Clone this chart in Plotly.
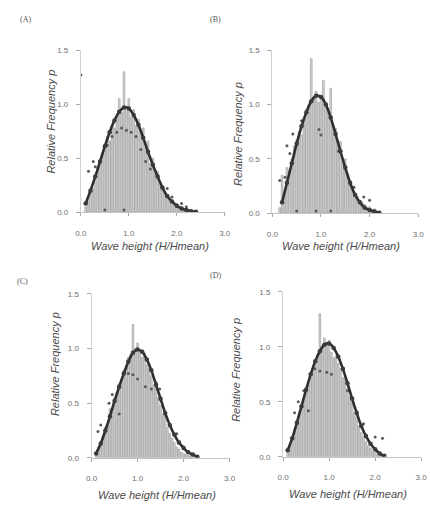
import numpy as np
import plotly.graph_objects as go

# ---------------- data ----------------
# Histogram bin centres (bin width 0.05) and relative frequencies per panel
A_hist_x = np.round(np.arange(0.10, 2.351, 0.05), 2)
A_hist_y = [0.05, 0.12, 0.18, 0.22, 0.30, 0.42, 0.45, 0.55, 0.58, 0.70,
            0.66, 0.80, 0.78, 0.88, 1.05, 0.92, 1.30, 0.98, 1.05, 0.88,
            0.95, 0.80, 0.86, 0.72, 0.78, 0.60, 0.66, 0.45, 0.50, 0.36,
            0.38, 0.26, 0.24, 0.18, 0.16, 0.12, 0.10, 0.07, 0.08, 0.04,
            0.05, 0.03, 0.02, 0.02, 0.01, 0.01]

B_hist_x = np.round(np.arange(0.15, 2.201, 0.05), 2)
B_hist_y = [0.05, 0.35, 0.20, 0.42, 0.40, 0.50, 0.62, 0.68, 0.75, 0.72,
            0.88, 0.95, 1.00, 1.42, 1.05, 1.12, 1.02, 1.08, 1.22, 1.00,
            0.95, 1.15, 0.82, 0.78, 0.62, 0.66, 0.48, 0.50, 0.36, 0.30,
            0.24, 0.18, 0.16, 0.12, 0.10, 0.08, 0.05, 0.06, 0.03, 0.04,
            0.02, 0.01]

C_hist_x = np.round(np.arange(0.10, 2.201, 0.05), 2)
C_hist_y = [0.03, 0.10, 0.12, 0.20, 0.28, 0.30, 0.45, 0.42, 0.55, 0.60,
            0.68, 0.72, 0.80, 0.82, 0.92, 0.95, 1.22, 1.00, 1.05, 0.98,
            0.92, 0.96, 0.85, 0.82, 0.75, 0.66, 0.70, 0.55, 0.48, 0.40,
            0.42, 0.28, 0.22, 0.18, 0.14, 0.10, 0.08, 0.05, 0.04, 0.03,
            0.02, 0.02, 0.01]

D_hist_x = np.round(np.arange(0.10, 2.151, 0.05), 2)
D_hist_y = [0.05, 0.10, 0.15, 0.25, 0.30, 0.40, 0.45, 0.52, 0.60, 0.66,
            0.72, 0.80, 0.85, 0.92, 1.30, 1.00, 1.08, 1.02, 1.06, 0.95,
            0.90, 0.92, 0.85, 0.80, 0.72, 0.74, 0.62, 0.55, 0.50, 0.40,
            0.36, 0.28, 0.22, 0.18, 0.14, 0.10, 0.08, 0.05, 0.04, 0.02,
            0.02, 0.01]

# Fitted distribution curves
A_curve_x = [0.1, 0.2, 0.3, 0.4, 0.5, 0.6, 0.7, 0.8, 0.9, 1.0, 1.1, 1.2,
             1.3, 1.4, 1.5, 1.6, 1.7, 1.8, 1.9, 2.0, 2.1, 2.2, 2.3, 2.4]
A_curve_y = [0.08, 0.20, 0.33, 0.47, 0.61, 0.74, 0.85, 0.93, 0.97, 0.96,
             0.90, 0.81, 0.69, 0.56, 0.44, 0.33, 0.23, 0.15, 0.10, 0.06,
             0.035, 0.02, 0.01, 0.005]

B_curve_x = [0.2, 0.3, 0.4, 0.5, 0.6, 0.7, 0.8, 0.9, 1.0, 1.1, 1.2, 1.3,
             1.4, 1.5, 1.6, 1.7, 1.8, 1.9, 2.0, 2.1, 2.2]
B_curve_y = [0.10, 0.28, 0.46, 0.64, 0.80, 0.93, 1.03, 1.08, 1.07, 1.00,
             0.88, 0.73, 0.57, 0.42, 0.28, 0.17, 0.10, 0.05, 0.03, 0.015,
             0.005]

C_curve_x = [0.1, 0.2, 0.3, 0.4, 0.5, 0.6, 0.7, 0.8, 0.9, 1.0, 1.1, 1.2,
             1.3, 1.4, 1.5, 1.6, 1.7, 1.8, 1.9, 2.0, 2.1, 2.2, 2.3]
C_curve_y = [0.04, 0.13, 0.25, 0.38, 0.52, 0.65, 0.77, 0.88, 0.96, 0.99,
             0.97, 0.90, 0.80, 0.67, 0.54, 0.41, 0.30, 0.21, 0.14, 0.09,
             0.05, 0.03, 0.01]

D_curve_x = [0.1, 0.2, 0.3, 0.4, 0.5, 0.6, 0.7, 0.8, 0.9, 1.0, 1.1, 1.2,
             1.3, 1.4, 1.5, 1.6, 1.7, 1.8, 1.9, 2.0, 2.1, 2.2]
D_curve_y = [0.06, 0.17, 0.31, 0.46, 0.61, 0.75, 0.87, 0.96, 1.02, 1.03,
             0.99, 0.91, 0.80, 0.67, 0.53, 0.40, 0.28, 0.19, 0.12, 0.07,
             0.03, 0.01]

# Individual observed points
A_pts_x = [0.0, 0.16, 0.26, 0.30, 0.55, 0.65, 0.75, 0.85, 0.95, 1.05,
           1.15, 1.25, 1.35, 1.45, 1.80, 1.90, 2.10, 2.20, 0.50, 0.90]
A_pts_y = [1.27, 0.38, 0.47, 0.42, 0.62, 0.70, 0.74, 0.78, 0.76, 0.74,
           0.70, 0.58, 0.47, 0.40, 0.22, 0.14, 0.08, 0.05, 0.02, 0.02]

B_pts_x = [0.15, 0.26, 0.36, 0.42, 0.60, 0.96, 1.00, 1.36, 1.68, 1.88,
           2.00, 0.50, 0.90, 1.20, 0.30]
B_pts_y = [0.30, 0.33, 0.55, 0.73, 0.85, 0.77, 0.72, 0.57, 0.24, 0.15,
           0.12, 0.02, 0.02, 0.02, 0.62]

C_pts_x = [0.14, 0.20, 0.38, 0.45, 0.80, 0.90, 1.00, 1.17, 1.30, 1.48,
           1.70, 1.85, 2.00, 0.60]
C_pts_y = [0.24, 0.30, 0.50, 0.58, 0.77, 0.76, 0.72, 0.65, 0.63, 0.63,
           0.30, 0.22, 0.10, 0.40]

D_pts_x = [0.25, 0.33, 0.45, 0.69, 0.80, 0.95, 1.05, 1.40, 1.75, 2.00,
           2.16, 0.55]
D_pts_y = [0.40, 0.50, 0.60, 0.80, 0.78, 0.77, 0.75, 0.60, 0.30, 0.18,
           0.17, 0.42]

panels = [
    ("A", A_hist_x, A_hist_y, A_curve_x, A_curve_y, A_pts_x, A_pts_y),
    ("B", B_hist_x, B_hist_y, B_curve_x, B_curve_y, B_pts_x, B_pts_y),
    ("C", C_hist_x, C_hist_y, C_curve_x, C_curve_y, C_pts_x, C_pts_y),
    ("D", D_hist_x, D_hist_y, D_curve_x, D_curve_y, D_pts_x, D_pts_y),
]

x_ticks = [0, 1, 2, 3]
x_labels = ["0.0", "1.0", "2.0", "3.0"]
y_ticks = [0, 0.5, 1.0, 1.5]
y_labels = ["0.0", "0.5", "1.0", "1.5"]
x_title = "Wave height (H/Hmean)"
y_title = "Relative Frequency p"

# ---------------- layout geometry (pixels) ----------------
W, H = 431, 509
# plot boxes: (x of 0, x of 3, y of 0, y of 1.5)
boxes = {
    "A": (77, 225, 212, 47),
    "B": (274, 424, 213, 47),
    "C": (88, 230, 462, 295),
    "D": (285, 427, 461, 293),
}
xtitle_pos = {"A": (148, 246), "B": (345, 246), "C": (155, 500), "D": (352, 499)}
ytitle_pos = {"A": (46, 120), "B": (238, 132), "C": (50, 367), "D": (237, 372)}
label_pos = {"A": (20, 16), "B": (215, 16), "C": (17, 282), "D": (216, 276)}

TICK_FONT = dict(family="Liberation Sans, Arial, sans-serif", size=8, color="#6e6e6e")
TITLE_FONT = dict(family="Liberation Sans, Arial, sans-serif", size=11, color="#4a4a4a")
LABEL_FONT = dict(family="Liberation Serif, Times New Roman, serif", size=8, color="#555555")


def px(x):
    return x / W


def py(y):
    return 1 - y / H


fig = go.Figure()
layout = dict(
    width=W, height=H,
    margin=dict(l=0, r=0, t=0, b=0),
    paper_bgcolor="white", plot_bgcolor="white",
    showlegend=False, barmode="overlay",
)
annotations = []

for i, (name, hx, hy, cx, cy, sx, sy) in enumerate(panels, start=1):
    xa = "x" if i == 1 else f"x{i}"
    ya = "y" if i == 1 else f"y{i}"
    x0, x3, y0, y15 = boxes[name]

    fig.add_trace(go.Bar(
        x=hx, y=hy, width=0.036, xaxis=xa, yaxis=ya,
        marker=dict(color="rgba(205,205,205,0.85)",
                    line=dict(color="#959595", width=0.6)),
    ))
    fig.add_trace(go.Scatter(
        x=sx, y=sy, mode="markers", xaxis=xa, yaxis=ya,
        marker=dict(size=3, color="#5a5a5a"),
    ))
    fig.add_trace(go.Scatter(
        x=cx, y=cy, mode="lines+markers", xaxis=xa, yaxis=ya,
        line=dict(color="#2e2e2e", width=2.6, shape="spline"),
        marker=dict(size=4.5, color="#3a3a3a"),
    ))

    layout["xaxis" if i == 1 else f"xaxis{i}"] = dict(
        domain=[px(x0), px(x3)], range=[0, 3], anchor=ya,
        tickvals=x_ticks, ticktext=x_labels, tickfont=TICK_FONT,
        ticks="outside", ticklen=3, tickcolor="#a8a8a8",
        showline=True, linecolor="#c4c4c4", linewidth=1,
        showgrid=False, zeroline=False, ticklabelstandoff=10,
    )
    layout["yaxis" if i == 1 else f"yaxis{i}"] = dict(
        domain=[py(y0), py(y15)], range=[0, 1.5], anchor=xa,
        tickvals=y_ticks, ticktext=y_labels, tickfont=TICK_FONT,
        ticks="outside", ticklen=4, tickcolor="#a8a8a8",
        showline=True, linecolor="#d0d0d0", linewidth=1,
        showgrid=False, zeroline=False, ticklabelstandoff=6,
    )

    tx, ty = xtitle_pos[name]
    annotations.append(dict(
        x=px(tx), y=py(ty), xref="paper", yref="paper", showarrow=False,
        text=f"<i>{x_title}</i>", font=TITLE_FONT,
        xanchor="center", yanchor="middle",
    ))
    tx, ty = ytitle_pos[name]
    annotations.append(dict(
        x=px(tx), y=py(ty), xref="paper", yref="paper", showarrow=False,
        text=f"<i>{y_title}</i>", font=TITLE_FONT, textangle=-90,
        xanchor="center", yanchor="middle",
    ))
    tx, ty = label_pos[name]
    annotations.append(dict(
        x=px(tx), y=py(ty), xref="paper", yref="paper", showarrow=False,
        text=f"({name})", font=LABEL_FONT,
        xanchor="center", yanchor="middle",
    ))

layout["annotations"] = annotations
fig.update_layout(**layout)
fig.write_html("out.html")
